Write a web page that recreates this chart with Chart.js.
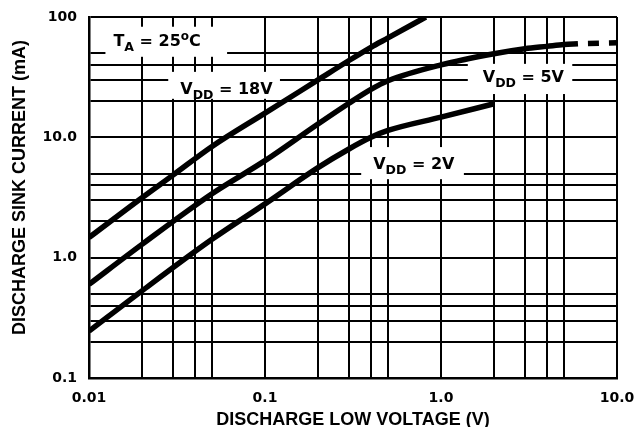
<!DOCTYPE html>
<html>
<head>
<meta charset="utf-8">
<script src="https://cdn.jsdelivr.net/npm/chart.js@4"></script>
<style>
  html, body { margin: 0; padding: 0; background: #fff; }
  #wrap { width: 634px; height: 427px; }
</style>
</head>
<body>
<div id="wrap"><canvas id="myChart" width="634" height="427"></canvas></div>
<script>
// curves (V, mA)
const vdd18X = [0.01, 0.02, 0.03, 0.05, 0.1, 0.2, 0.3, 0.4, 0.5, 0.82];
const vdd18Y = [1.47, 3.15, 4.85, 8.4, 15.9, 30, 43.5, 56, 67, 100];

const vdd5X = [0.01, 0.02, 0.05, 0.1, 0.2, 0.3, 0.4, 0.5, 1, 2, 3, 4, 5, 6];
const vdd5Y = [0.6, 1.29, 3.4, 6.4, 12.9, 19.2, 25, 29.5, 40, 49.5, 54.5, 57, 59, 60];

const vdd5DashX = [6, 10];
const vdd5DashY = [60, 61];

const vdd2X = [0.01, 0.02, 0.05, 0.1, 0.2, 0.3, 0.4, 0.5, 1, 2];
const vdd2Y = [0.245, 0.53, 1.42, 2.8, 5.6, 8.0, 10, 11.4, 14.7, 19];

// grid lines: 1..5 of every decade
const xGridValues = [0.01, 0.02, 0.03, 0.04, 0.05, 0.1, 0.2, 0.3, 0.4, 0.5, 1, 2, 3, 4, 5, 10];
const yGridValues = [0.1, 0.2, 0.3, 0.4, 0.5, 1, 2, 3, 4, 5, 10, 20, 30, 40, 50, 100];

const xTickValues = [0.01, 0.1, 1, 10];
const xTickLabels = ['0.01', '0.1', '1.0', '10.0'];
const yTickValues = [0.1, 1, 10, 100];
const yTickLabels = ['0.1', '1.0', '10.0', '100'];

// in-plot labels: [text, style] parts, text anchor and white box, in data units
const noteLabels = [
  { parts: [['T', 'n'], ['A', 'sub'], [' = 25', 'n'], ['o', 'sup'], ['C', 'n']],
    x: 0.01376, y: 57.6, box: [0.0124, 0.0609, 46.7, 83] },
  { parts: [['V', 'n'], ['DD', 'sub'], [' = 18V', 'n']],
    x: 0.033, y: 22.9, box: [0.0282, 0.1216, 20.9, 35.0] },
  { parts: [['V', 'n'], ['DD', 'sub'], [' = 5V', 'n']],
    x: 1.727, y: 28.9, box: [1.42, 5.57, 22.9, 40.8] },
  { parts: [['V', 'n'], ['DD', 'sub'], [' = 2V', 'n']],
    x: 0.412, y: 5.44, box: [0.352, 1.349, 4.49, 8.3] }
];

function toPoints(xs, ys) {
  return xs.map((x, i) => ({ x: x, y: ys[i] }));
}

function pickLabel(v, values, labels) {
  for (let i = 0; i < values.length; i++) {
    if (Math.abs(v - values[i]) / values[i] < 1e-6) return labels[i];
  }
  return '';
}

const notesPlugin = {
  id: 'notes',
  beforeDatasetsDraw(chart) {
    const c = chart.ctx;
    const xs = chart.scales.x, ys = chart.scales.y;
    c.save();
    noteLabels.forEach(n => {
      const x1 = xs.getPixelForValue(n.box[0]);
      const x2 = xs.getPixelForValue(n.box[1]);
      const y1 = ys.getPixelForValue(n.box[3]);
      const y2 = ys.getPixelForValue(n.box[2]);
      c.fillStyle = '#fff';
      c.fillRect(x1, y1, x2 - x1, y2 - y1);

      let px = xs.getPixelForValue(n.x);
      const py = ys.getPixelForValue(n.y);
      c.fillStyle = '#000';
      c.textBaseline = 'alphabetic';
      c.textAlign = 'left';
      n.parts.forEach(p => {
        let size = 16, dy = 0;
        if (p[1] === 'sub') { size = 12.5; dy = 5; }
        if (p[1] === 'sup') { size = 12; dy = -6; }
        c.font = 'bold ' + size + 'px "DejaVu Sans"';
        c.fillText(p[0], px, py + dy);
        px += c.measureText(p[0]).width;
      });
    });
    c.restore();
  }
};

const lineStyle = {
  borderColor: '#000',
  borderWidth: 5.5,
  pointRadius: 0,
  fill: false,
  cubicInterpolationMode: 'monotone',
  borderCapStyle: 'butt'
};

const tickFont = { family: 'DejaVu Sans', weight: 'bold', size: 14 };
const titleFont = { family: 'Liberation Sans', weight: 'bold', size: 18, lineHeight: 1.0 };

new Chart(document.getElementById('myChart'), {
  type: 'line',
  data: {
    datasets: [
      Object.assign({ label: 'VDD = 18V', data: toPoints(vdd18X, vdd18Y) }, lineStyle),
      Object.assign({ label: 'VDD = 5V', data: toPoints(vdd5X, vdd5Y) }, lineStyle),
      Object.assign({ label: 'VDD = 5V (ext)', data: toPoints(vdd5DashX, vdd5DashY),
        borderDash: [11, 10], borderDashOffset: 11 }, lineStyle),
      Object.assign({ label: 'VDD = 2V', data: toPoints(vdd2X, vdd2Y) }, lineStyle)
    ]
  },
  options: {
    responsive: false,
    animation: false,
    layout: { padding: { top: 17, right: 17, left: 0, bottom: 0 } },
    plugins: {
      legend: { display: false },
      tooltip: { enabled: false }
    },
    scales: {
      x: {
        type: 'logarithmic',
        min: 0.01,
        max: 10,
        afterBuildTicks: s => { s.ticks = xGridValues.map(v => ({ value: v })); },
        afterFit: s => { s.height = 49; s.paddingLeft = 0; s.paddingRight = 0; },
        ticks: {
          autoSkip: false,
          maxRotation: 0,
          color: '#000',
          font: tickFont,
          padding: 12,
          callback: v => pickLabel(v, xTickValues, xTickLabels)
        },
        grid: { color: '#000', lineWidth: 2, drawTicks: false },
        border: { color: '#000', width: 2.5 },
        title: {
          display: true,
          text: 'DISCHARGE LOW VOLTAGE (V)',
          color: '#000',
          font: titleFont,
          padding: { top: 0, bottom: -2 }
        }
      },
      y: {
        type: 'logarithmic',
        min: 0.1,
        max: 100,
        afterBuildTicks: s => { s.ticks = yGridValues.map(v => ({ value: v })); },
        afterFit: s => { s.width = 89; s.paddingTop = 0; s.paddingBottom = 0; },
        ticks: {
          autoSkip: false,
          color: '#000',
          font: tickFont,
          padding: 12,
          callback: v => pickLabel(v, yTickValues, yTickLabels)
        },
        grid: { color: '#000', lineWidth: 2, drawTicks: false },
        border: { color: '#000', width: 2.5 },
        title: {
          display: true,
          // leading spaces lift the rotated title a little, as in the original
          text: '    DISCHARGE SINK CURRENT (mA)',
          color: '#000',
          font: titleFont,
          padding: { top: 11, bottom: 0 }
        }
      }
    }
  },
  plugins: [notesPlugin]
});
</script>
</body>
</html>
